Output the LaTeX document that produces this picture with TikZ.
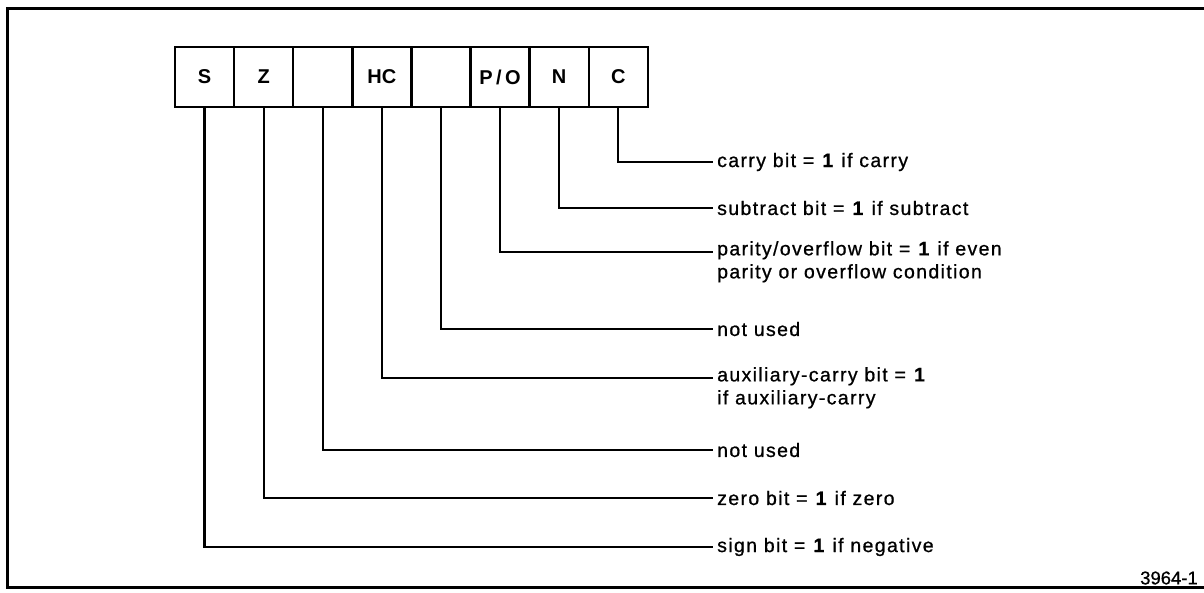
\documentclass[tikz,border=0pt]{standalone}
\usepackage{fontspec}
\setmainfont{Liberation Sans}
\newfontfamily\lblfont[LetterSpace=7,FakeBold=0.8]{Liberation Sans}
\newfontfamily\figfont[FakeBold=0.6]{Liberation Sans}
\begin{document}
\begin{tikzpicture}[x=1pt,y=-1pt,
  bitbox/.style={draw,line width=2.4pt,minimum width=59.1pt,minimum height=60pt,inner sep=0pt,outer sep=0pt,font=\fontsize{20}{24}\selectfont\bfseries},
  lbl/.style={anchor=west,inner xsep=4pt,inner ysep=0pt,align=left,font=\fontsize{19.5}{23}\selectfont\lblfont},
  lbltwo/.style={anchor=north west,inner xsep=4pt,inner ysep=0pt,align=left,font=\fontsize{19.5}{23}\selectfont\lblfont},
  conn/.style={line width=2.2pt},
  frame/.style={line width=3pt}]
\useasboundingbox (0,0) rectangle (1204,592);
\draw[frame] (1204,8) -- (7,8) -- (7,587) -- (1204,587);
% bit boxes
\foreach \n/\t [count=\i from 0] in {S/S,Z/Z,U1/,HC/HC,U2/,PO/{P\,/\,O},N/N,C/C}
  \node[bitbox] (\n) at ({175+59.1*(\i+0.5)},77) {\t};
% labels
\node[lbl] (lC) at (713,162) {carry bit = \textbf{1} if carry};
\node[lbl] (lN) at (713,208) {subtract bit = \textbf{1} if subtract};
\node[lbltwo] (lPO) at (713,241) {parity/overflow bit = \textbf{1} if even\\parity or overflow condition};
\node[lbl] (lU2) at (713,329) {not used};
\node[lbltwo] (lHC) at (713,367) {auxiliary-carry bit = \textbf{1}\\if auxiliary-carry};
\node[lbl] (lU1) at (713,450) {not used};
\node[lbl] (lZ) at (713,498) {zero bit = \textbf{1} if zero};
\node[lbl] (lS) at (713,547) {sign bit = \textbf{1} if negative};
\node[anchor=east,inner sep=0pt,font=\fontsize{18.5}{22}\selectfont\figfont] (fig) at (1198,578) {3964-1};
% connectors
\draw[conn] (C.south) |- (lC.west);
\draw[conn] (N.south) |- (lN.west);
\draw[conn] (PO.south) |- ([yshift=-11pt]lPO.north west);
\draw[conn] (U2.south) |- (lU2.west);
\draw[conn] (HC.south) |- ([yshift=-11pt]lHC.north west);
\draw[conn] (U1.south) |- (lU1.west);
\draw[conn] (Z.south) |- (lZ.west);
\draw[conn] (S.south) |- (lS.west);
\end{tikzpicture}
\end{document}
